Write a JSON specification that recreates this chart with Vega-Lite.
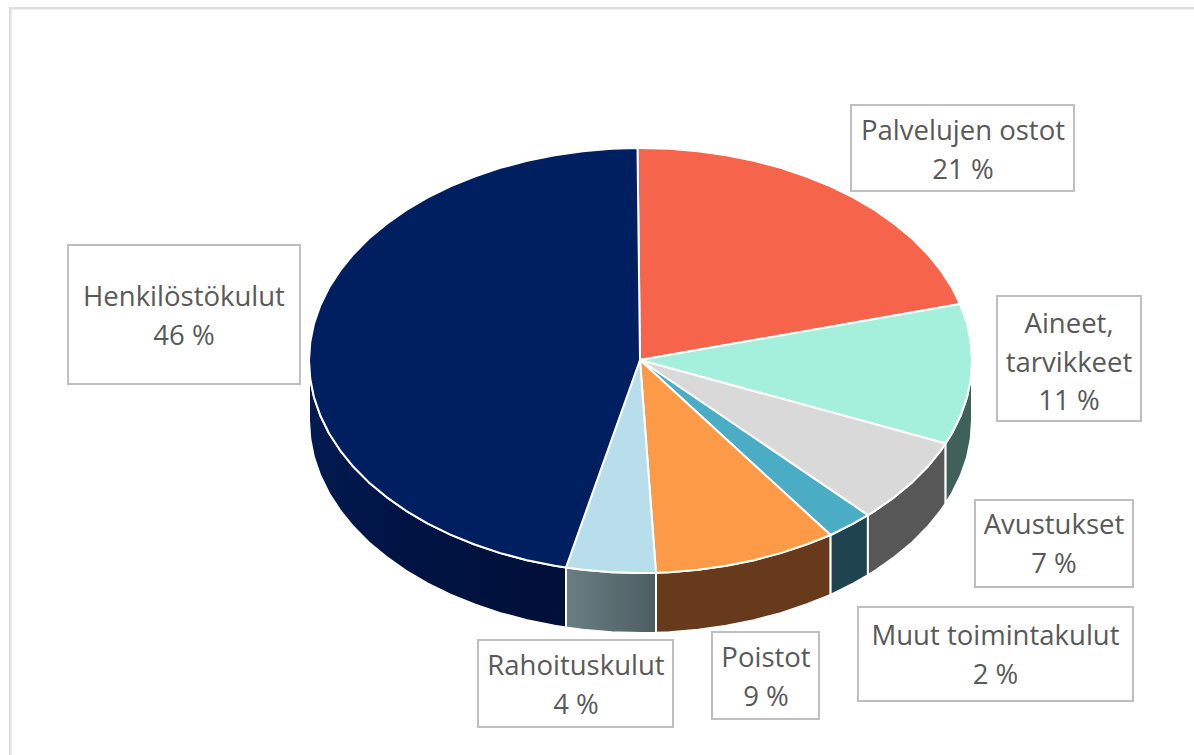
{"$schema":"https://vega.github.io/schema/vega-lite/v6.json","width":1194,"height":755,"padding":0,"autosize":"none","background":"#ffffff","config":{"view":{"stroke":null}},
"datasets":{
"frame":[{"x":9,"x2":1194,"y":8.2,"y2":8.2},{"x":10.3,"x2":10.3,"y":7,"y2":755}],
"boxes":[{"n":"Palvelujen ostot","x":851,"x2":1074,"y":105,"y2":191},{"n":"Aineet, tarvikkeet","x":997,"x2":1141,"y":296,"y2":421},{"n":"Avustukset","x":975,"x2":1133,"y":500,"y2":587},{"n":"Muut toimintakulut","x":858,"x2":1133,"y":607,"y2":701},{"n":"Poistot","x":712,"x2":819,"y":632,"y2":719},{"n":"Rahoituskulut","x":478,"x2":673,"y":640,"y2":727},{"n":"Henkilöstökulut","x":68,"x2":300,"y":245,"y2":384}],
"labels":[{"t":"Palvelujen ostot","x":963,"y":140},{"t":"21 %","x":963,"y":179},{"t":"Aineet,","x":1069,"y":333},{"t":"tarvikkeet","x":1069,"y":371.5},{"t":"11 %","x":1069,"y":410},{"t":"Avustukset","x":1054,"y":534},{"t":"7 %","x":1054,"y":573},{"t":"Muut toimintakulut","x":995.5,"y":645},{"t":"2 %","x":995.5,"y":683.5},{"t":"Poistot","x":766,"y":667},{"t":"9 %","x":766,"y":705.5},{"t":"Rahoituskulut","x":576,"y":675},{"t":"4 %","x":576,"y":714},{"t":"Henkilöstökulut","x":184,"y":306},{"t":"46 %","x":184,"y":345}],
"sivu":[
{"n":"Henk","o":0,"x":566,"y":567.5},{"n":"Henk","o":1,"x":554.7,"y":565.8},{"n":"Henk","o":2,"x":527.1,"y":560.2},{"n":"Henk","o":3,"x":500.4,"y":553.1},{"n":"Henk","o":4,"x":474.7,"y":544.5},{"n":"Henk","o":5,"x":450.4,"y":534.6},{"n":"Henk","o":6,"x":427.4,"y":523.3},{"n":"Henk","o":7,"x":406.1,"y":510.8},{"n":"Henk","o":8,"x":386.6,"y":497.1},{"n":"Henk","o":9,"x":368.9,"y":482.4},{"n":"Henk","o":10,"x":353.4,"y":466.8},{"n":"Henk","o":11,"x":340.1,"y":450.3},{"n":"Henk","o":12,"x":329,"y":433.2},{"n":"Henk","o":13,"x":320.3,"y":415.5},{"n":"Henk","o":14,"x":314,"y":397.4},{"n":"Henk","o":15,"x":310.3,"y":379},{"n":"Henk","o":16,"x":309,"y":360.5},{"n":"Henk","o":17,"x":309,"y":420.5},{"n":"Henk","o":18,"x":310.3,"y":439},{"n":"Henk","o":19,"x":314,"y":457.4},{"n":"Henk","o":20,"x":320.3,"y":475.5},{"n":"Henk","o":21,"x":329,"y":493.2},{"n":"Henk","o":22,"x":340.1,"y":510.3},{"n":"Henk","o":23,"x":353.4,"y":526.8},{"n":"Henk","o":24,"x":368.9,"y":542.4},{"n":"Henk","o":25,"x":386.6,"y":557.1},{"n":"Henk","o":26,"x":406.1,"y":570.8},{"n":"Henk","o":27,"x":427.4,"y":583.3},{"n":"Henk","o":28,"x":450.4,"y":594.6},{"n":"Henk","o":29,"x":474.7,"y":604.5},{"n":"Henk","o":30,"x":500.4,"y":613.1},{"n":"Henk","o":31,"x":527.1,"y":620.2},{"n":"Henk","o":32,"x":554.7,"y":625.8},{"n":"Henk","o":33,"x":566,"y":627.5},{"n":"Henk","o":34,"x":566,"y":567.5},
{"n":"Rah","o":0,"x":656,"y":572.8},{"n":"Rah","o":1,"x":640.5,"y":573},{"n":"Rah","o":2,"x":611.6,"y":572.2},{"n":"Rah","o":3,"x":582.9,"y":569.8},{"n":"Rah","o":4,"x":566,"y":567.5},{"n":"Rah","o":5,"x":566,"y":627.5},{"n":"Rah","o":6,"x":582.9,"y":629.8},{"n":"Rah","o":7,"x":611.6,"y":632.2},{"n":"Rah","o":8,"x":640.5,"y":633},{"n":"Rah","o":9,"x":656,"y":632.8},{"n":"Rah","o":10,"x":656,"y":572.8},
{"n":"Poi","o":0,"x":830.6,"y":535},{"n":"Poi","o":1,"x":806.3,"y":544.5},{"n":"Poi","o":2,"x":780.6,"y":553.1},{"n":"Poi","o":3,"x":753.9,"y":560.2},{"n":"Poi","o":4,"x":726.3,"y":565.8},{"n":"Poi","o":5,"x":698.1,"y":569.8},{"n":"Poi","o":6,"x":669.4,"y":572.2},{"n":"Poi","o":7,"x":656,"y":572.8},{"n":"Poi","o":8,"x":656,"y":632.8},{"n":"Poi","o":9,"x":669.4,"y":632.2},{"n":"Poi","o":10,"x":698.1,"y":629.8},{"n":"Poi","o":11,"x":726.3,"y":625.8},{"n":"Poi","o":12,"x":753.9,"y":620.2},{"n":"Poi","o":13,"x":780.6,"y":613.1},{"n":"Poi","o":14,"x":806.3,"y":604.5},{"n":"Poi","o":15,"x":830.6,"y":595},{"n":"Poi","o":16,"x":830.6,"y":535},
{"n":"Muu","o":0,"x":867.9,"y":515.1},{"n":"Muu","o":1,"x":853.6,"y":523.3},{"n":"Muu","o":2,"x":830.6,"y":535},{"n":"Muu","o":3,"x":830.6,"y":595},{"n":"Muu","o":4,"x":853.6,"y":583.3},{"n":"Muu","o":5,"x":867.9,"y":575.1},{"n":"Muu","o":6,"x":867.9,"y":515.1},
{"n":"Avu","o":0,"x":945.6,"y":443.5},{"n":"Avu","o":1,"x":940.9,"y":450.3},{"n":"Avu","o":2,"x":927.6,"y":466.8},{"n":"Avu","o":3,"x":912.1,"y":482.4},{"n":"Avu","o":4,"x":894.4,"y":497.1},{"n":"Avu","o":5,"x":874.9,"y":510.8},{"n":"Avu","o":6,"x":867.9,"y":515.1},{"n":"Avu","o":7,"x":867.9,"y":575.1},{"n":"Avu","o":8,"x":874.9,"y":570.8},{"n":"Avu","o":9,"x":894.4,"y":557.1},{"n":"Avu","o":10,"x":912.1,"y":542.4},{"n":"Avu","o":11,"x":927.6,"y":526.8},{"n":"Avu","o":12,"x":940.9,"y":510.3},{"n":"Avu","o":13,"x":945.6,"y":503.5},{"n":"Avu","o":14,"x":945.6,"y":443.5},
{"n":"Ain","o":0,"x":972,"y":360.5},{"n":"Ain","o":1,"x":970.7,"y":379},{"n":"Ain","o":2,"x":967,"y":397.4},{"n":"Ain","o":3,"x":960.7,"y":415.5},{"n":"Ain","o":4,"x":952,"y":433.2},{"n":"Ain","o":5,"x":945.6,"y":443.5},{"n":"Ain","o":6,"x":945.6,"y":503.5},{"n":"Ain","o":7,"x":952,"y":493.2},{"n":"Ain","o":8,"x":960.7,"y":475.5},{"n":"Ain","o":9,"x":967,"y":457.4},{"n":"Ain","o":10,"x":970.7,"y":439},{"n":"Ain","o":11,"x":972,"y":420.5},{"n":"Ain","o":12,"x":972,"y":360.5}
],
"kansi":[
{"n":"Pal","o":0,"x":640,"y":360},{"n":"Pal","o":1,"x":637.5,"y":148},{"n":"Pal","o":2,"x":640.5,"y":148},{"n":"Pal","o":3,"x":669.4,"y":148.8},{"n":"Pal","o":4,"x":698.1,"y":151.2},{"n":"Pal","o":5,"x":726.3,"y":155.2},{"n":"Pal","o":6,"x":753.9,"y":160.8},{"n":"Pal","o":7,"x":780.6,"y":167.9},{"n":"Pal","o":8,"x":806.3,"y":176.5},{"n":"Pal","o":9,"x":830.6,"y":186.4},{"n":"Pal","o":10,"x":853.6,"y":197.7},{"n":"Pal","o":11,"x":874.9,"y":210.2},{"n":"Pal","o":12,"x":894.4,"y":223.9},{"n":"Pal","o":13,"x":912.1,"y":238.6},{"n":"Pal","o":14,"x":927.6,"y":254.2},{"n":"Pal","o":15,"x":940.9,"y":270.7},{"n":"Pal","o":16,"x":952,"y":287.8},{"n":"Pal","o":17,"x":960,"y":304},{"n":"Pal","o":18,"x":640,"y":360},
{"n":"Ain","o":0,"x":640,"y":360},{"n":"Ain","o":1,"x":960,"y":304},{"n":"Ain","o":2,"x":967,"y":323.6},{"n":"Ain","o":3,"x":970.7,"y":342},{"n":"Ain","o":4,"x":972,"y":360.5},{"n":"Ain","o":5,"x":970.7,"y":379},{"n":"Ain","o":6,"x":967,"y":397.4},{"n":"Ain","o":7,"x":960.7,"y":415.5},{"n":"Ain","o":8,"x":952,"y":433.2},{"n":"Ain","o":9,"x":945.6,"y":443.5},{"n":"Ain","o":10,"x":640,"y":360},
{"n":"Avu","o":0,"x":640,"y":360},{"n":"Avu","o":1,"x":945.6,"y":443.5},{"n":"Avu","o":2,"x":940.9,"y":450.3},{"n":"Avu","o":3,"x":927.6,"y":466.8},{"n":"Avu","o":4,"x":912.1,"y":482.4},{"n":"Avu","o":5,"x":894.4,"y":497.1},{"n":"Avu","o":6,"x":874.9,"y":510.8},{"n":"Avu","o":7,"x":867.9,"y":515.1},{"n":"Avu","o":8,"x":640,"y":360},
{"n":"Muu","o":0,"x":640,"y":360},{"n":"Muu","o":1,"x":867.9,"y":515.1},{"n":"Muu","o":2,"x":853.6,"y":523.3},{"n":"Muu","o":3,"x":830.6,"y":535},{"n":"Muu","o":4,"x":640,"y":360},
{"n":"Poi","o":0,"x":640,"y":360},{"n":"Poi","o":1,"x":830.6,"y":535},{"n":"Poi","o":2,"x":806.3,"y":544.5},{"n":"Poi","o":3,"x":780.6,"y":553.1},{"n":"Poi","o":4,"x":753.9,"y":560.2},{"n":"Poi","o":5,"x":726.3,"y":565.8},{"n":"Poi","o":6,"x":698.1,"y":569.8},{"n":"Poi","o":7,"x":669.4,"y":572.2},{"n":"Poi","o":8,"x":656,"y":572.8},{"n":"Poi","o":9,"x":640,"y":360},
{"n":"Rah","o":0,"x":640,"y":360},{"n":"Rah","o":1,"x":656,"y":572.8},{"n":"Rah","o":2,"x":640.5,"y":573},{"n":"Rah","o":3,"x":611.6,"y":572.2},{"n":"Rah","o":4,"x":582.9,"y":569.8},{"n":"Rah","o":5,"x":566,"y":567.5},{"n":"Rah","o":6,"x":640,"y":360},
{"n":"Henk","o":0,"x":640,"y":360},{"n":"Henk","o":1,"x":566,"y":567.5},{"n":"Henk","o":2,"x":554.7,"y":565.8},{"n":"Henk","o":3,"x":527.1,"y":560.2},{"n":"Henk","o":4,"x":500.4,"y":553.1},{"n":"Henk","o":5,"x":474.7,"y":544.5},{"n":"Henk","o":6,"x":450.4,"y":534.6},{"n":"Henk","o":7,"x":427.4,"y":523.3},{"n":"Henk","o":8,"x":406.1,"y":510.8},{"n":"Henk","o":9,"x":386.6,"y":497.1},{"n":"Henk","o":10,"x":368.9,"y":482.4},{"n":"Henk","o":11,"x":353.4,"y":466.8},{"n":"Henk","o":12,"x":340.1,"y":450.3},{"n":"Henk","o":13,"x":329,"y":433.2},{"n":"Henk","o":14,"x":320.3,"y":415.5},{"n":"Henk","o":15,"x":314,"y":397.4},{"n":"Henk","o":16,"x":310.3,"y":379},{"n":"Henk","o":17,"x":309,"y":360.5},{"n":"Henk","o":18,"x":310.3,"y":342},{"n":"Henk","o":19,"x":314,"y":323.6},{"n":"Henk","o":20,"x":320.3,"y":305.5},{"n":"Henk","o":21,"x":329,"y":287.8},{"n":"Henk","o":22,"x":340.1,"y":270.7},{"n":"Henk","o":23,"x":353.4,"y":254.2},{"n":"Henk","o":24,"x":368.9,"y":238.6},{"n":"Henk","o":25,"x":386.6,"y":223.9},{"n":"Henk","o":26,"x":406.1,"y":210.2},{"n":"Henk","o":27,"x":427.4,"y":197.7},{"n":"Henk","o":28,"x":450.4,"y":186.4},{"n":"Henk","o":29,"x":474.7,"y":176.5},{"n":"Henk","o":30,"x":500.4,"y":167.9},{"n":"Henk","o":31,"x":527.1,"y":160.8},{"n":"Henk","o":32,"x":554.7,"y":155.2},{"n":"Henk","o":33,"x":582.9,"y":151.2},{"n":"Henk","o":34,"x":611.6,"y":148.8},{"n":"Henk","o":35,"x":637.5,"y":148},{"n":"Henk","o":36,"x":640,"y":360}
]},
"encoding":{"x":{"field":"x","type":"quantitative","axis":null,"scale":{"domain":[0,1194],"nice":false,"zero":false}},"y":{"field":"y","type":"quantitative","axis":null,"scale":{"domain":[755,0],"nice":false,"zero":false}}},
"layer":[
{"data":{"name":"frame"},"mark":{"type":"rule","color":"#dedede","strokeWidth":2.5},"encoding":{"x2":{"field":"x2"},"y2":{"field":"y2"}}},
{"data":{"name":"sivu"},"transform":[{"filter":"datum.n!=='Henk'&&datum.n!=='Rah'"}],"mark":{"type":"line","stroke":"#ffffff","strokeWidth":2,"strokeJoin":"round"},"encoding":{"order":{"field":"o"},"fill":{"field":"n","type":"nominal","legend":null,"scale":{"domain":["Poi","Muu","Avu","Ain"],"range":["#673a1c","#1f444f","#575757","#3f6159"]}}}},
{"data":{"name":"sivu"},"transform":[{"filter":"datum.n==='Henk'"}],"mark":{"type":"line","stroke":"#ffffff","strokeWidth":2,"strokeJoin":"round","fill":{"gradient":"linear","x1":0,"x2":1,"y1":0,"y2":0,"stops":[{"offset":0,"color":"#011a52"},{"offset":0.35,"color":"#001444"},{"offset":1,"color":"#000f38"}]}},"encoding":{"order":{"field":"o"}}},
{"data":{"name":"sivu"},"transform":[{"filter":"datum.n==='Rah'"}],"mark":{"type":"line","stroke":"#ffffff","strokeWidth":2,"strokeJoin":"round","fill":{"gradient":"linear","x1":0,"x2":1,"y1":0,"y2":0,"stops":[{"offset":0,"color":"#687f82"},{"offset":1,"color":"#4d5e63"}]}},"encoding":{"order":{"field":"o"}}},
{"data":{"name":"kansi"},"mark":{"type":"line","stroke":"#ffffff","strokeWidth":2,"strokeJoin":"round"},"encoding":{"order":{"field":"o"},"fill":{"field":"n","type":"nominal","legend":null,"scale":{"domain":["Henk","Pal","Ain","Avu","Muu","Poi","Rah"],"range":["#001f60","#f6654b","#a5f0dd","#d9d9d9","#4bacc6","#fd9a47","#b7deea"]}}}},
{"data":{"name":"boxes"},"mark":{"type":"rect","fill":"#ffffff","stroke":"#bfbfbf","strokeWidth":2},"encoding":{"x2":{"field":"x2"},"y2":{"field":"y2"}}},
{"data":{"name":"labels"},"mark":{"type":"text","font":"Open Sans","fontSize":27.5,"color":"#595959","align":"center","baseline":"alphabetic"},"encoding":{"text":{"field":"t"}}}
],
"resolve":{"scale":{"fill":"independent"}}}
